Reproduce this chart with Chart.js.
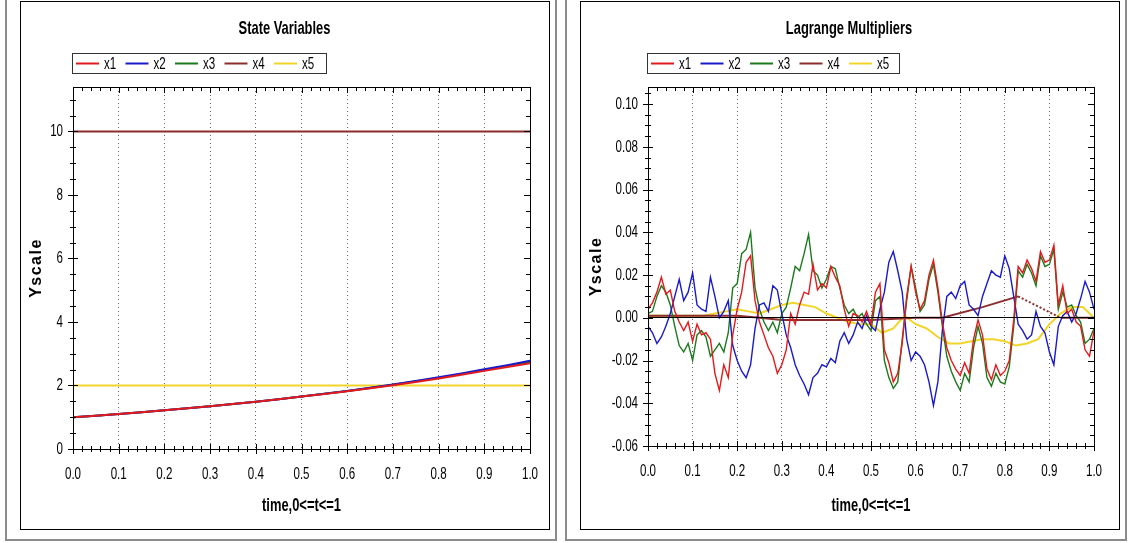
<!DOCTYPE html>
<html>
<head>
<meta charset="utf-8">
<script src="https://cdn.jsdelivr.net/npm/chart.js@4.4.1/dist/chart.umd.min.js"></script>
<style>
  body { margin: 0; background: #fff; width: 1129px; height: 543px; overflow: hidden; position: relative; }
  .outer { position: absolute; top: -2px; height: 543px; border: 2px solid #8c8c8c; box-sizing: border-box; }
  .inner { position: absolute; top: 1px; height: 529px; border: 1px solid #000; box-sizing: border-box; }
  canvas { position: absolute; top: 2px; }
</style>
</head>
<body>
<div class="outer" style="left:5px; width:552px"></div>
<div class="inner" style="left:20px; width:530px"></div>
<div class="outer" style="left:565px; width:562px"></div>
<div class="inner" style="left:580px; width:540px"></div>
<canvas id="chartEstado" style="left:21px" width="527" height="526"></canvas>
<canvas id="chartLagrange" style="left:581px" width="536" height="526"></canvas>

<script>
// Nombres y colores de las series
const nombres = ["x1", "x2", "x3", "x4", "x5"];
const colores = ["#e31a1c", "#1a1acd", "#1b7a1b", "#8b2d2d", "#f2d52a"];

// Variables de estado
const tiempoE = [0, 0.05, 0.1, 0.15, 0.2, 0.25, 0.3, 0.35, 0.4, 0.45, 0.5,
  0.55, 0.6, 0.65, 0.7, 0.75, 0.8, 0.85, 0.9, 0.95, 1];
const estX1 = [1.00, 1.05, 1.10, 1.16, 1.22, 1.28, 1.35, 1.42, 1.49, 1.57, 1.65,
  1.73, 1.82, 1.91, 2.01, 2.11, 2.22, 2.34, 2.46, 2.58, 2.70];
const estX2 = [1.00, 1.05, 1.10, 1.16, 1.22, 1.28, 1.35, 1.42, 1.49, 1.57, 1.65,
  1.74, 1.83, 1.93, 2.03, 2.14, 2.26, 2.38, 2.51, 2.64, 2.78];
const estX3 = [1.00, 1.05, 1.10, 1.16, 1.22, 1.28, 1.35, 1.42, 1.49, 1.57, 1.65,
  1.74, 1.83, 1.92, 2.02, 2.13, 2.24, 2.36, 2.49, 2.61, 2.74];
const estX4 = [10, 10, 10, 10, 10, 10, 10, 10, 10, 10, 10,
  10, 10, 10, 10, 10, 10, 10, 10, 10, 10];
const estX5 = [2, 2, 2, 2, 2, 2, 2, 2, 2, 2, 2,
  2, 2, 2, 2, 2, 2, 2, 2, 2, 2];
const ticksEstadoY = [0, 2, 4, 6, 8, 10];

// Multiplicadores de Lagrange
const tiempoL = [0, 0.01, 0.02, 0.03, 0.04, 0.05, 0.06, 0.07, 0.08, 0.09,
  0.1, 0.11, 0.12, 0.13, 0.14, 0.15, 0.16, 0.17, 0.18, 0.19,
  0.2, 0.21, 0.22, 0.23, 0.24, 0.25, 0.26, 0.27, 0.28, 0.29,
  0.3, 0.31, 0.32, 0.33, 0.34, 0.35, 0.36, 0.37, 0.38, 0.39,
  0.4, 0.41, 0.42, 0.43, 0.44, 0.45, 0.46, 0.47, 0.48, 0.49,
  0.5, 0.51, 0.52, 0.53, 0.54, 0.55, 0.56, 0.57, 0.58, 0.59,
  0.6, 0.61, 0.62, 0.63, 0.64, 0.65, 0.66, 0.67, 0.68, 0.69,
  0.7, 0.71, 0.72, 0.73, 0.74, 0.75, 0.76, 0.77, 0.78, 0.79,
  0.8, 0.81, 0.82, 0.83, 0.84, 0.85, 0.86, 0.87, 0.88, 0.89,
  0.9, 0.91, 0.92, 0.93, 0.94, 0.95, 0.96, 0.97, 0.98, 0.99, 1];
const lagX1 = [0.004, 0.007, 0.012, 0.019, 0.011, 0.013, 0.003, -0.002, -0.006, -0.002,
  -0.011, -0.003, -0.008, -0.007, -0.010, -0.026, -0.034, -0.022, -0.028, -0.008,
  0.004, 0.012, 0.026, 0.029, 0.008, -0.002, -0.008, -0.014, -0.018, -0.026,
  -0.022, -0.015, 0.002, -0.003, 0.006, 0.012, 0.011, 0.025, 0.013, 0.016,
  0.014, 0.024, 0.019, 0.015, 0.004, -0.004, 0.002, 0.001, -0.002, 0.003,
  -0.003, 0.012, 0.016, -0.015, -0.021, -0.030, -0.026, -0.012, 0.010, 0.024,
  0.012, 0.004, 0.008, 0.020, 0.027, 0.014, -0.002, -0.014, -0.020, -0.024,
  -0.027, -0.021, -0.026, -0.010, -0.001, -0.008, -0.024, -0.029, -0.022, -0.027,
  -0.025, -0.020, -0.001, 0.024, 0.021, 0.027, 0.023, 0.017, 0.031, 0.026,
  0.027, 0.034, 0.006, 0.015, 0.002, 0.004, -0.002, -0.004, -0.015, -0.018, -0.006];
const lagX2 = [-0.004, -0.007, -0.012, -0.009, -0.004, 0.002, 0.010, 0.018, 0.008, 0.012,
  0.021, 0.006, 0.004, 0.003, 0.019, 0.010, 0.000, 0.003, 0.008, -0.013,
  -0.020, -0.025, -0.028, -0.022, -0.005, 0.006, 0.007, 0.003, 0.015, 0.013,
  0.002, -0.008, -0.014, -0.022, -0.027, -0.031, -0.036, -0.028, -0.026, -0.022,
  -0.023, -0.019, -0.021, -0.011, -0.007, -0.012, -0.008, -0.002, -0.005, 0.001,
  -0.004, -0.006, 0.004, 0.012, 0.026, 0.031, 0.022, 0.012, -0.010, -0.020,
  -0.016, -0.018, -0.022, -0.030, -0.041, -0.030, -0.006, 0.010, 0.012, 0.009,
  0.015, 0.017, 0.006, 0.004, 0.001, 0.010, 0.016, 0.022, 0.020, 0.019,
  0.029, 0.023, 0.010, -0.003, -0.006, -0.010, -0.008, 0.003, -0.004, -0.007,
  -0.016, -0.022, -0.004, 0.001, 0.003, -0.002, 0.002, 0.009, 0.017, 0.012, 0.004];
const lagX3 = [0.002, 0.003, 0.010, 0.015, 0.012, 0.006, -0.004, -0.013, -0.016, -0.012,
  -0.020, -0.008, -0.006, -0.009, -0.018, -0.015, -0.012, -0.016, -0.007, 0.014,
  0.016, 0.030, 0.032, 0.040, 0.014, 0.004, -0.002, -0.006, -0.002, -0.007,
  0.002, 0.005, 0.014, 0.024, 0.022, 0.030, 0.039, 0.022, 0.020, 0.014,
  0.018, 0.024, 0.023, 0.014, 0.006, 0.002, 0.004, 0.000, 0.002, -0.003,
  -0.006, 0.008, 0.010, -0.020, -0.028, -0.033, -0.030, -0.010, 0.008, 0.024,
  0.014, 0.003, 0.006, 0.018, 0.025, 0.012, -0.004, -0.018, -0.025, -0.030,
  -0.034, -0.026, -0.030, -0.014, -0.004, -0.012, -0.028, -0.032, -0.026, -0.030,
  -0.031, -0.023, -0.004, 0.022, 0.019, 0.025, 0.021, 0.015, 0.029, 0.024,
  0.025, 0.032, 0.004, 0.012, 0.005, 0.006, 0.001, -0.002, -0.012, -0.010, -0.005];
const tiempoX4 = [0, 0.1, 0.2, 0.25, 0.3, 0.4, 0.5, 0.6, 0.66, 0.75, 0.83, 0.925, 1];
const lagX4 = [0.001, 0.001, 0.001, 0.000, -0.001, -0.001, -0.001, 0.000, 0.000, 0.005, 0.010, 0.000, 0.000];
const tiempoX5 = [0, 0.025, 0.05, 0.075, 0.1, 0.125, 0.15, 0.175, 0.2, 0.225,
  0.25, 0.275, 0.3, 0.325, 0.35, 0.375, 0.4, 0.425, 0.45, 0.475,
  0.5, 0.525, 0.55, 0.575, 0.6, 0.625, 0.65, 0.675, 0.7, 0.725,
  0.75, 0.775, 0.8, 0.825, 0.85, 0.875, 0.9, 0.925, 0.95, 0.975, 1];
const lagX5 = [0.001, 0.001, 0.001, 0.001, 0.001, 0.001, 0.002, 0.003, 0.004, 0.003,
  0.002, 0.004, 0.006, 0.007, 0.006, 0.005, 0.002, 0.000, -0.002, -0.003,
  -0.003, -0.007, -0.005, 0.001, -0.003, -0.005, -0.009, -0.012, -0.012, -0.011,
  -0.010, -0.010, -0.011, -0.013, -0.012, -0.010, -0.003, 0.002, 0.005, 0.005, 0.000];
const ticksLagrangeY = [-0.06, -0.04, -0.02, 0, 0.02, 0.04, 0.06, 0.08, 0.1];

const fuente = '"Liberation Sans", Arial, sans-serif';

function puntos(xs, ys) {
  return xs.map((t, i) => ({ x: t, y: ys[i] }));
}

// Texto estrecho (tipo Helvetica Condensed): se comprime en horizontal al dibujar
function textoEstrecho(ctx) {
  const original = ctx.fillText;
  ctx.fillText = function (texto, x, y) {
    this.save();
    if (texto === "Yscale") {
      this.letterSpacing = "1.5px";
      original.call(this, texto, x, y);
    } else {
      this.translate(x, y);
      this.scale(0.68, 1);
      original.call(this, texto, 0, 0);
    }
    this.restore();
  };
}

// Marco del área, ticks mayores y menores en los cuatro lados
const marcoTicks = {
  id: "marcoTicks",
  afterDraw(chart, args, opts) {
    const { ctx, chartArea: a, scales: { x, y } } = chart;
    ctx.save();
    ctx.strokeStyle = "#000";
    ctx.lineWidth = 1;
    ctx.strokeRect(Math.round(a.left) + 0.5, Math.round(a.top) + 0.5,
      Math.round(a.right - a.left), Math.round(a.bottom - a.top));
    const esMayor = (v, paso) => Math.abs(v / paso - Math.round(v / paso)) < 1e-6;
    ctx.beginPath();
    let n = Math.round((x.max - x.min) / opts.xMenor);
    for (let i = 0; i <= n; i++) {
      const v = x.min + i * opts.xMenor;
      const px = Math.round(x.getPixelForValue(v)) + 0.5;
      const l = esMayor(v, opts.xMayor) ? 5 : 3;
      ctx.moveTo(px, a.bottom - l); ctx.lineTo(px, a.bottom + l);
      ctx.moveTo(px, a.top); ctx.lineTo(px, a.top + l + 1);
    }
    const y0 = Math.ceil(y.min / opts.yMenor - 1e-6) * opts.yMenor;
    n = Math.floor((y.max - y0) / opts.yMenor + 1e-6);
    for (let i = 0; i <= n; i++) {
      const v = y0 + i * opts.yMenor;
      const py = Math.round(y.getPixelForValue(v)) + 0.5;
      const l = esMayor(v, opts.yMayor) ? 5 : 3;
      ctx.moveTo(a.left - l, py); ctx.lineTo(a.left + l, py);
      ctx.moveTo(a.right, py); ctx.lineTo(a.right - l - 1, py);
    }
    ctx.stroke();
    ctx.restore();
  }
};

// Leyenda con recuadro
const leyendaCaja = {
  id: "leyendaCaja",
  afterDraw(chart, args, opts) {
    const { ctx, chartArea } = chart;
    const x0 = Math.round(chartArea.left) - 1, y0 = 51, h = 20;
    ctx.save();
    ctx.strokeStyle = "#333";
    ctx.lineWidth = 1;
    ctx.strokeRect(x0 + 0.5, y0 + 0.5, opts.ancho, h);
    ctx.font = "17px " + fuente;
    ctx.textBaseline = "middle";
    chart.data.datasets.forEach((ds, i) => {
      const lx = x0 + 4 + i * 49.5;
      ctx.strokeStyle = ds.borderColor;
      ctx.lineWidth = 2;
      ctx.setLineDash([]);
      ctx.beginPath();
      ctx.moveTo(lx, y0 + h / 2 + 0.5);
      ctx.lineTo(lx + 23, y0 + h / 2 + 0.5);
      ctx.stroke();
      ctx.fillStyle = "#000";
      ctx.fillText(ds.label, lx + 28, y0 + h / 2 + 1);
    });
    ctx.restore();
  }
};

function opciones(titulo, yMin, yMax, yPaso, yTicks, yFmt, anchoY, altoX, yMenor, anchoLeyenda, margenDer) {
  return {
    responsive: false,
    animation: false,
    layout: { padding: 0 },
    plugins: {
      legend: { display: false },
      tooltip: { enabled: false },
      title: {
        display: true, text: titulo, color: "#000",
        font: { family: fuente, size: 19, weight: "bold" },
        padding: { top: 15, bottom: 47.2 }
      },
      marcoTicks: { xMenor: 0.02, xMayor: 0.1, yMenor: yMenor, yMayor: yPaso },
      leyendaCaja: { ancho: anchoLeyenda }
    },
    scales: {
      x: {
        type: "linear", min: 0, max: 1,
        afterFit: s => { s.height = altoX; s.paddingLeft = 0; s.paddingRight = 0; },
        border: { display: false, dash: [1, 3] },
        grid: {
          drawTicks: false,
          color: c => (c.tick && c.tick.value > 0.001 && c.tick.value < 0.999) ? "#666" : "transparent"
        },
        ticks: {
          stepSize: 0.1, padding: 15, color: "#000", maxRotation: 0,
          font: { family: fuente, size: 17 },
          callback: v => v.toFixed(1)
        },
        title: {
          display: true, text: "time,0<=t<=1", color: "#000",
          font: { family: fuente, size: 19, weight: "bold" },
          padding: { top: 0, bottom: 11 }
        }
      },
      y: {
        min: yMin, max: yMax,
        afterFit: s => { s.width = anchoY; s.paddingTop = 0; s.paddingBottom = 0; },
        afterBuildTicks: s => { s.ticks = yTicks.map(v => ({ value: v })); },
        border: { display: false },
        grid: {
          drawTicks: false, z: 1,
          color: c => (c.tick && Math.abs(c.tick.value) < 1e-9 && yMin < 0) ? "#000" : "transparent"
        },
        ticks: {
          padding: 10, color: "#000",
          font: { family: fuente, size: 17 },
          callback: yFmt
        },
        title: {
          display: true, text: "Yscale", color: "#000",
          font: { family: fuente, size: 16, weight: "bold" },
          padding: { top: 6, bottom: 0 }
        }
      },
      // eje vacío a la derecha, solo reserva el margen
      margen: {
        position: "right", display: true,
        afterFit: s => { s.width = margenDer; s.paddingTop = 0; s.paddingBottom = 0; },
        ticks: { display: false },
        grid: { display: false },
        border: { display: false }
      }
    }
  };
}

function serie(i, datos, ancho, extra) {
  return Object.assign({
    label: nombres[i], data: datos, borderColor: colores[i],
    borderWidth: ancho, pointRadius: 0, fill: false, tension: 0
  }, extra || {});
}

// Gráfico de variables de estado
const ctx1 = document.getElementById("chartEstado").getContext("2d");
textoEstrecho(ctx1);
new Chart(ctx1, {
  type: "line",
  data: {
    datasets: [
      serie(0, puntos(tiempoE, estX1), 2),
      serie(1, puntos(tiempoE, estX2), 2),
      serie(2, puntos(tiempoE, estX3), 2),
      serie(3, puntos(tiempoE, estX4), 2),
      serie(4, puntos(tiempoE, estX5), 2)
    ]
  },
  options: opciones("State Variables", 0, 11.4, 2, ticksEstadoY, v => String(v), 52, 79, 0.5, 254, 18),
  plugins: [marcoTicks, leyendaCaja]
});

// Gráfico de multiplicadores de Lagrange
const ctx2 = document.getElementById("chartLagrange").getContext("2d");
textoEstrecho(ctx2);
new Chart(ctx2, {
  type: "line",
  data: {
    datasets: [
      serie(0, puntos(tiempoL, lagX1), 1.4),
      serie(1, puntos(tiempoL, lagX2), 1.4),
      serie(2, puntos(tiempoL, lagX3), 1.4),
      serie(3, puntos(tiempoX4, lagX4), 2, {
        segment: { borderDash: c => c.p0.parsed.x > 0.8 && c.p1.parsed.x < 0.95 ? [2, 2] : undefined }
      }),
      serie(4, puntos(tiempoX5, lagX5), 2)
    ]
  },
  options: opciones("Lagrange Multipliers", -0.06, 0.108, 0.02, ticksLagrangeY, v => v.toFixed(2), 67, 82, 0.005, 252, 23),
  plugins: [marcoTicks, leyendaCaja]
});
</script>
</body>
</html>
